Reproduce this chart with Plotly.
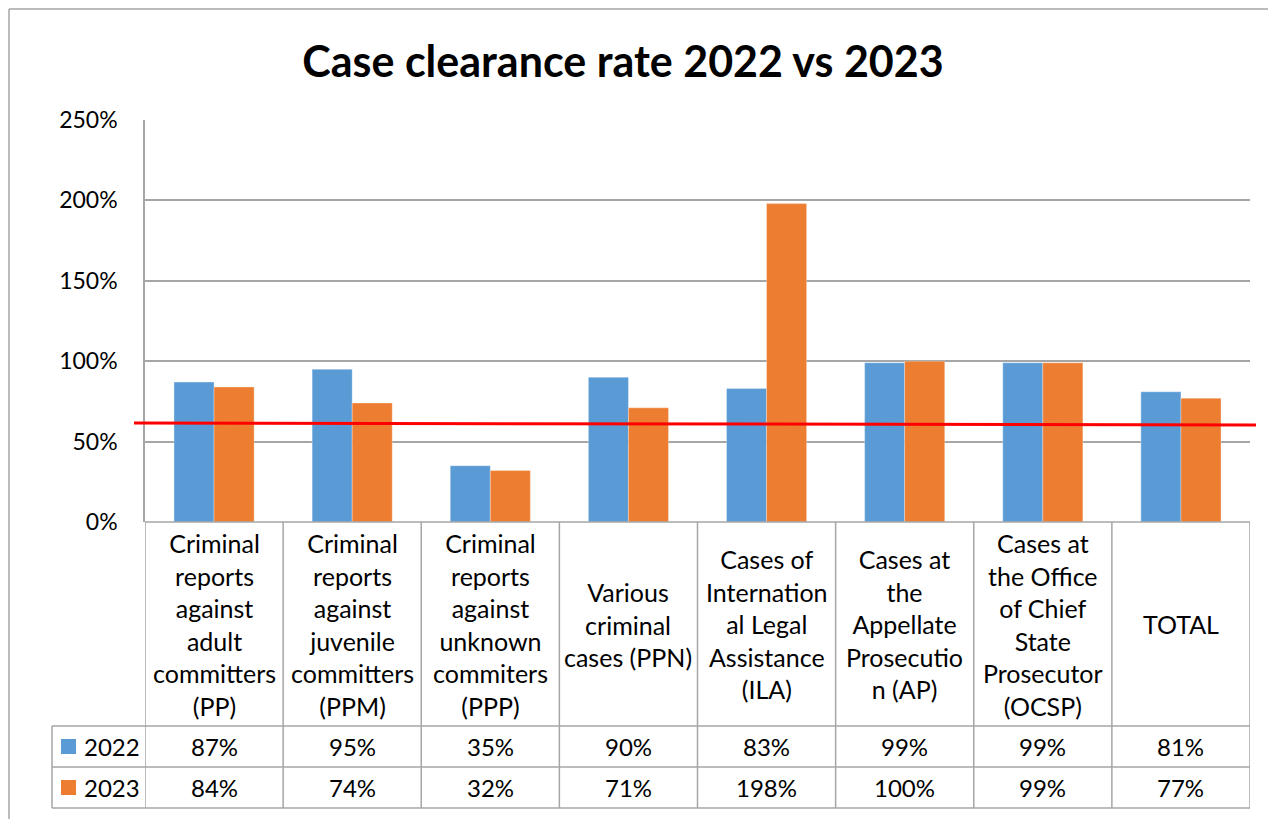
import plotly.graph_objects as go

# data
CATEGORIES = [
    "Criminal<br>reports<br>against<br>adult<br>committers<br>(PP)",
    "Criminal<br>reports<br>against<br>juvenile<br>committers<br>(PPM)",
    "Criminal<br>reports<br>against<br>unknown<br>commiters<br>(PPP)",
    "Various<br>criminal<br>cases (PPN)",
    "Cases of<br>Internation<br>al Legal<br>Assistance<br>(ILA)",
    "Cases at<br>the<br>Appellate<br>Prosecutio<br>n (AP)",
    "Cases at<br>the Office<br>of Chief<br>State<br>Prosecutor<br>(OCSP)",
    "TOTAL",
]
SERIES = ["2022", "2023"]
VALUES_2022 = [87, 95, 35, 90, 83, 99, 99, 81]
VALUES_2023 = [84, 74, 32, 71, 198, 100, 99, 77]
REF_LINE = [61.6, 60.3]  # hand-drawn red line, left/right end (%)
Y_TICKS = [0, 50, 100, 150, 200, 250]

COLORS = {"2022": "#5B9BD5", "2023": "#ED7D31"}
FONT = "Lato"
W, H = 1276, 819
OFF = 8  # page body margin
FW, FH = W - OFF, H - OFF


def px(x):
    return (x - OFF) / FW


def py(y):
    return 1 - (y - OFF) / FH


# plot area in pixels (screen coords of the reference)
L, R, T, B = 145, 1250, 120, 522
ROW1, ROW2, ROW3 = 726, 767, 808
LEG_L = 52
GRID = "#a6a6a6"

n = len(CATEGORIES)
xs = list(range(n))

fig = go.Figure()
for name, vals in zip(SERIES, [VALUES_2022, VALUES_2023]):
    fig.add_trace(go.Bar(x=xs, y=vals, name=name, marker_color=COLORS[name],
                         marker_line=dict(width=0.5, color="rgba(255,255,255,0.6)")))

line = dict(color=GRID, width=1.5)
shapes = []
# outer chart border (top + left)
shapes.append(dict(type="line", xref="paper", yref="paper", x0=px(9), x1=px(W + 5),
                   y0=py(9), y1=py(9), line=line))
shapes.append(dict(type="line", xref="paper", yref="paper", x0=px(9), x1=px(9),
                   y0=py(9), y1=py(H + 5), line=line))

# table: vertical separators
for i in range(n + 1):
    shapes.append(dict(type="line", xref="x", yref="paper", x0=i - 0.5, x1=i - 0.5,
                       y0=py(B), y1=py(ROW3), line=line))
# legend column
shapes.append(dict(type="line", xref="paper", yref="paper", x0=px(LEG_L), x1=px(LEG_L),
                   y0=py(ROW1), y1=py(ROW3), line=line))
# horizontal rows
for yy in (ROW1, ROW2, ROW3):
    shapes.append(dict(type="line", xref="paper", yref="paper", x0=px(LEG_L), x1=px(R),
                       y0=py(yy), y1=py(yy), line=line))
shapes.append(dict(type="line", xref="paper", yref="paper", x0=px(L), x1=px(R),
                   y0=py(B), y1=py(B), line=line))
# legend swatches
row_bounds = [(ROW1, ROW2), (ROW2, ROW3)]
for name, (top, bot) in zip(SERIES, row_bounds):
    cy = (top + bot) / 2
    shapes.append(dict(type="rect", xref="paper", yref="paper", x0=px(61), x1=px(76),
                       y0=py(cy - 7.5), y1=py(cy + 7.5), fillcolor=COLORS[name],
                       line=dict(width=0)))

# red reference line
shapes.append(dict(type="line", xref="paper", yref="y", x0=px(134), x1=px(1256),
                   y0=REF_LINE[0], y1=REF_LINE[1], line=dict(color="#ff0000", width=3)))

annotations = []
for i, cat in enumerate(CATEGORIES):
    annotations.append(dict(x=i, y=py((B + ROW1) / 2), xref="x", yref="paper", text=cat,
                            showarrow=False, yanchor="middle", align="center",
                            font=dict(family=FONT, size=25, color="#000")))
for vals, (top, bot) in zip([VALUES_2022, VALUES_2023], row_bounds):
    for i, v in enumerate(vals):
        annotations.append(dict(x=i, y=py((top + bot) / 2), xref="x", yref="paper",
                                text=f"{v}%", showarrow=False, yanchor="middle",
                                font=dict(family=FONT, size=24, color="#000")))
for name, (top, bot) in zip(SERIES, row_bounds):
    annotations.append(dict(x=px(82), y=py((top + bot) / 2), xref="paper", yref="paper",
                            text=name, showarrow=False, xanchor="left", yanchor="middle",
                            font=dict(family=FONT, size=24, color="#000")))

fig.update_layout(
    width=FW, height=FH,
    margin=dict(l=0, r=0, t=0, b=0, autoexpand=False),
    paper_bgcolor="white", plot_bgcolor="white",
    title=dict(text="<b>Case clearance rate 2022 vs 2023</b>", x=px(623), y=py(62),
               xanchor="center", yanchor="middle",
               font=dict(family=FONT, size=43, color="#000")),
    showlegend=False,
    barmode="group", bargap=0.42, bargroupgap=0,
    shapes=shapes, annotations=annotations,
    font=dict(family=FONT, size=23, color="#000"),
)
fig.update_xaxes(domain=[px(L), px(R)], range=[-0.5, n - 0.5], showticklabels=False,
                 showgrid=False, zeroline=False, showline=False, automargin=False)
fig.update_yaxes(domain=[py(B), py(T)], range=[0, 250], tickvals=Y_TICKS,
                 ticktext=[f"{t}%" for t in Y_TICKS], showgrid=True, gridcolor=GRID,
                 gridwidth=1.5, zeroline=False, showline=True, linecolor=GRID, linewidth=1.5,
                 automargin=False, ticklabelstandoff=21,
                 tickfont=dict(family=FONT, size=23, color="#000"))

fig.write_html("out.html")
